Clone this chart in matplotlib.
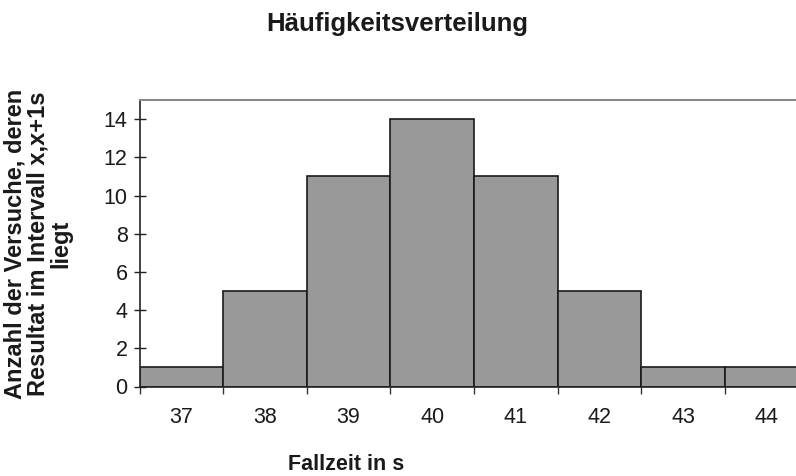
import numpy as np
import matplotlib
matplotlib.use('Agg')
import matplotlib.pyplot as plt

plt.rcParams['font.family'] = ['Liberation Sans', 'DejaVu Sans']

# Fallzeit-Klassen und Haeufigkeiten
zeiten = ['37', '38', '39', '40', '41', '42', '43', '44']
anzahl = [1, 5, 11, 14, 11, 5, 1, 1]

fig = plt.figure(figsize=(7.96, 4.76), dpi=100, facecolor='white')
# plot area runs past the right edge like in the original screenshot
ax = fig.add_axes((139.5 / 796, 1 - 386.5 / 476, 669 / 796, 286.5 / 476))

x = np.arange(len(zeiten))
ax.bar(x, anzahl, width=1.0, color='#999999', edgecolor='#1a1a1a', linewidth=1.2, zorder=2)

ax.set_xlim(-0.5, len(zeiten) - 0.5)
ax.set_ylim(0, 15)
ax.set_yticks(range(0, 15, 2))
ax.set_xticks(x)
ax.set_xticklabels(zeiten)
ax.set_xticks(np.arange(-0.5, len(zeiten), 1), minor=True)
ax.tick_params(axis='x', which='major', length=0, labelsize=15.5, pad=15, labelcolor='#1a1a1a')
ax.tick_params(axis='x', which='minor', length=5, direction='out', width=1, color='#333333')
ax.tick_params(axis='y', length=9, direction='inout', width=1, labelsize=15.5, pad=4,
               labelcolor='#1a1a1a', color='#222222')

for side in ['left', 'bottom']:
    ax.spines[side].set_color('#222222')
    ax.spines[side].set_linewidth(1.2)
ax.spines['top'].set_color('#888888')
ax.spines['top'].set_linewidth(1.5)
ax.spines['right'].set_visible(False)

fig.text(397 / 796, 1 - 24 / 476, 'Häufigkeitsverteilung', ha='center', va='center',
         fontsize=18.5, fontweight='bold', color='#1a1a1a')
fig.text(346 / 796, 1 - 465 / 476, 'Fallzeit in s', ha='center', va='center',
         fontsize=15.5, fontweight='bold', color='#1a1a1a')
fig.text(38 / 796, 1 - 244 / 476, 'Anzahl der Versuche, deren\nResultat im Intervall x,x+1s\nliegt',
         ha='center', va='center', rotation=90, fontsize=17, fontweight='bold',
         linespacing=1.0, multialignment='center', color='#1a1a1a')

fig.savefig('out.png', dpi=100)
